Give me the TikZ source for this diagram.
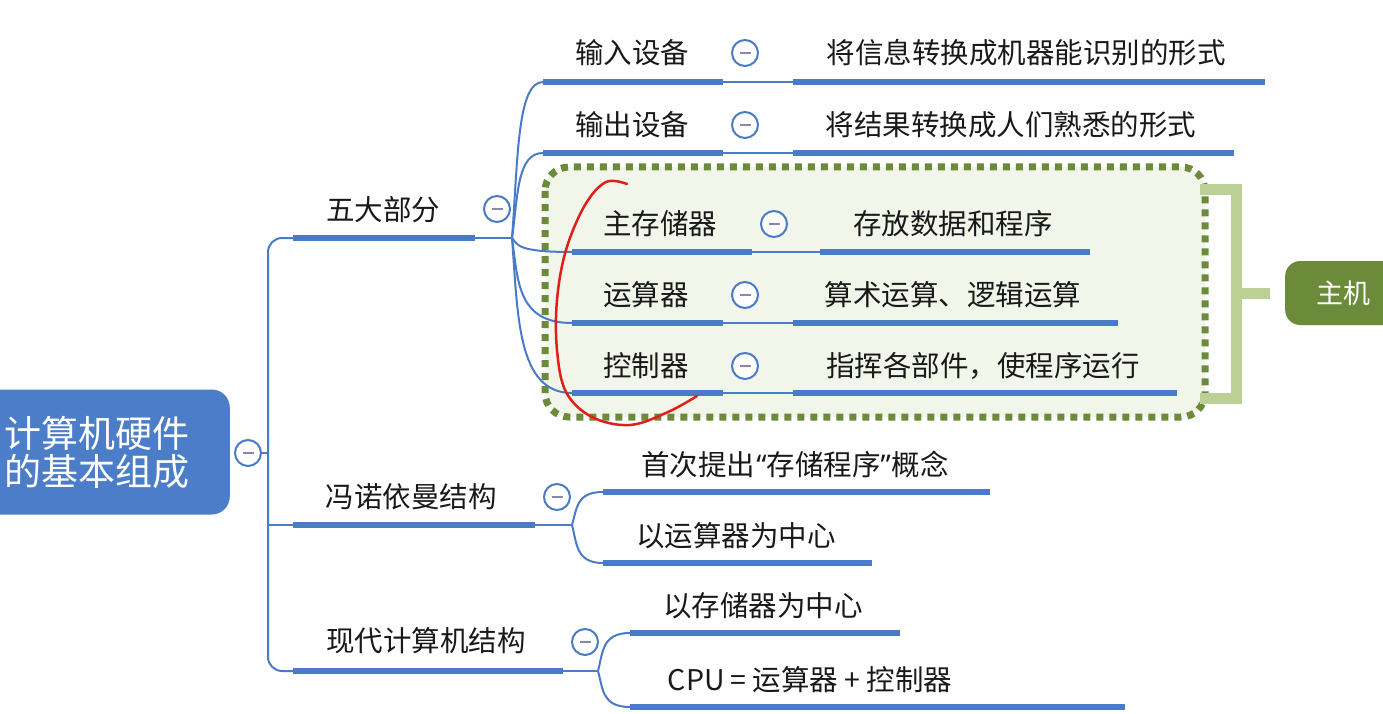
\documentclass[tikz,border=0pt]{standalone}
\usepackage{fontspec}
\setmainfont{Noto Sans CJK SC}
\newfontfamily\latinq{Noto Sans}
\usetikzlibrary{calc}
\definecolor{mblue}{HTML}{4A7BC6}
\definecolor{rootblue}{HTML}{4C7DC8}
\definecolor{minusgrey}{HTML}{8A88A8}
\definecolor{dgreen}{HTML}{6B8A3A}
\definecolor{lgreen}{HTML}{BCCF95}
\definecolor{boxfill}{HTML}{F2F5EA}
\definecolor{penred}{HTML}{E02018}
\begin{document}
\begin{tikzpicture}[x=1pt,y=-1pt,
  lbl/.style={font=\fontsize{28.5}{32}\selectfont, inner sep=0pt, anchor=center, text=black!90},
  uline/.style={draw=mblue, line width=6pt},
  conn/.style={draw=mblue, line width=2pt},
  mc/.style={circle, draw=mblue, line width=2pt, fill=white, minimum size=26pt, inner sep=0pt,
    path picture={\draw[minusgrey, line width=2.2pt] ($(path picture bounding box.center)+(-5.5pt,0)$) -- ($(path picture bounding box.center)+(5.5pt,0)$);}},
]
\useasboundingbox (0,0) rectangle (1383,714);

% dotted host box
\draw[fill=boxfill, draw=dgreen, line width=7pt, dash pattern=on 7pt off 6pt, rounded corners=24pt] (545,167) rectangle (1205,417);

% bracket
\draw[lgreen, line width=11pt] (1200,190) -- (1236,190) -- (1236,398) -- (1200,398);
\coordinate (bt) at (1236,293);
\draw[lgreen, line width=11pt] (bt) -- (1270,293);
\node[fill=dgreen, rounded corners=15pt, minimum width=140pt, minimum height=64pt, anchor=west, inner sep=0pt] (zhuji) at (1285,293) {};
\node[font=\fontsize{27}{30}\selectfont, text=white, inner sep=0pt] (zhujit) at (1343,293) {主机};

% root
\node[fill=rootblue, rounded corners=18pt, minimum width=260pt, minimum height=125pt, anchor=east, inner sep=0pt] (rootbox) at (230,452) {};
\node[font=\fontsize{37}{38}\selectfont, text=white, align=left, anchor=west, inner sep=0pt] (root) at (4,452) {计算机硬件\\的基本组成};
\node[mc] (c0) at (248,453) {};

% trunk
\coordinate (j) at (268,453);
\coordinate (u1s) at (293,238); \coordinate (u1e) at (475,238);
\coordinate (u2s) at (293,525); \coordinate (u2e) at (535,525);
\coordinate (u3s) at (293,671); \coordinate (u3e) at (563,671);
\draw[conn] (c0.east) -- (j);
\draw[conn, rounded corners=14pt] (u1s) -| (j) |- (u3s);
\draw[conn] (j) |- (u2s);
\draw[uline] (u1s) -- (u1e);
\draw[uline] (u2s) -- (u2e);
\draw[uline] (u3s) -- (u3e);

\node[lbl] (t1) at (383,210) {五大部分};
\node[lbl] (t2) at (411,497) {冯诺依曼结构};
\node[lbl] (t3) at (426,641) {现代计算机结构};
\node[mc] (c1) at (497,209) {};
\node[mc] (c2) at (557,497) {};
\node[mc] (c3) at (585,642) {};

% forks
\coordinate (f1) at (512,238);
\coordinate (f2) at (572,525);
\coordinate (f3) at (598,671);
\draw[conn] (u1e) -- (f1);
\draw[conn] (u2e) -- (f2);
\draw[conn] (u3e) -- (f3);

% five parts rows
\coordinate (a1s) at (543,82);  \coordinate (a1e) at (723,82);  \coordinate (b1s) at (793,82);  \coordinate (b1e) at (1265,82);
\coordinate (a2s) at (543,153); \coordinate (a2e) at (723,153); \coordinate (b2s) at (793,153); \coordinate (b2e) at (1234,153);
\coordinate (a3s) at (572,252); \coordinate (a3e) at (752,252); \coordinate (b3s) at (820,252); \coordinate (b3e) at (1090,252);
\coordinate (a4s) at (572,323); \coordinate (a4e) at (723,323); \coordinate (b4s) at (793,323); \coordinate (b4e) at (1118,323);
\coordinate (a5s) at (572,393); \coordinate (a5e) at (723,393); \coordinate (b5s) at (793,393); \coordinate (b5e) at (1177,393);

\foreach \i in {1,...,5}{
  \draw[conn] (f1) .. controls ($(f1)!0.5!(f1|-a\i s)+(6,0)$) and ($(f1|-a\i s)+(5,0)$) .. (a\i s);
  \draw[conn] (a\i e) -- (b\i s);
  \draw[uline] (a\i s) -- (a\i e);
  \draw[uline] (b\i s) -- (b\i e);
}

\node[lbl] (p1) at (632,53) {输入设备};
\node[lbl] (p2) at (632,125) {输出设备};
\node[lbl] (p3) at (660,224) {主存储器};
\node[lbl] (p4) at (646,295) {运算器};
\node[lbl] (p5) at (646,366) {控制器};
\node[mc] (d1) at (745,53) {};
\node[mc] (d2) at (745,125) {};
\node[mc] (d3) at (774,224) {};
\node[mc] (d4) at (745,295) {};
\node[mc] (d5) at (745,366) {};
\node[lbl] (q1) at (1026,53) {将信息转换成机器能识别的形式};
\node[lbl] (q2) at (1011,125) {将结果转换成人们熟悉的形式};
\node[lbl] (q3) at (953,224) {存放数据和程序};
\node[lbl] (q4) at (953,295) {算术运算、逻辑运算};
\node[lbl] (q5) at (983,366) {指挥各部件，使程序运行};

% von Neumann
\coordinate (v1s) at (603,492); \coordinate (v1e) at (990,492);
\coordinate (v2s) at (603,563); \coordinate (v2e) at (872,563);
\coordinate (m1s) at (630,633); \coordinate (m1e) at (900,633);
\coordinate (m2s) at (630,707); \coordinate (m2e) at (1125,707);
\foreach \a/\f in {v1/f2,v2/f2,m1/f3,m2/f3}{
  \draw[conn] (\f) .. controls ($(\f)!0.5!(\f|-\a s)+(5,0)$) and ($(\f|-\a s)+(4,0)$) .. (\a s);
  \draw[uline] (\a s) -- (\a e);
}
\node[lbl] (r1) at (795,464) {首次提出{\latinq\kern1pt“}存储程序{\latinq ”\kern1pt}概念};
\node[lbl] (r2) at (736,536) {以运算器为中心};
\node[lbl] (r3) at (763,606) {以存储器为中心};
\node[lbl] (r4) at (810,680) {CPU\hspace{6pt}=\hspace{6pt}运算器 + 控制器};

% red pen mark
\draw[penred, line width=2.5pt, line cap=round, line join=round] plot[smooth, tension=0.6] coordinates {(627,184) (606,182) (585,205) (566,250) (557,300) (557,350) (566,392) (592,417) (630,425) (668,412) (697,396)};
\end{tikzpicture}
\end{document}
